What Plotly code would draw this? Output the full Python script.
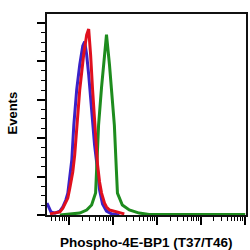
import plotly.graph_objects as go

# Fluorescence intensity (log scale) and relative event counts
blue_x = [3.16, 3.51, 3.89, 4.80, 6.21, 7.26, 8.49, 9.42, 10.45, 11.6, 12.9, 15.0, 17.6, 20.6, 22.8,
          25.3, 28.1, 31.1, 34.5, 38.3, 44.8, 49.7, 58.1, 71.5, 92.8, 141]
blue_y = [0.31, 0.18, 0.08, 0.05, 0.10, 0.21, 0.39, 0.57, 0.96, 1.43, 2.34, 3.26, 3.91, 4.40, 4.51,
          4.17, 3.65, 2.99, 2.47, 1.82, 1.17, 0.65, 0.29, 0.10, 0.03, 0.0]

red_x = [3.70, 4.80, 6.21, 7.26, 8.49, 9.42, 10.45, 12.2, 13.5, 15.0, 17.6, 21.6, 25.3, 28.1, 29.6,
         31.1, 34.5, 38.3, 40.4, 44.8, 49.7, 55.2, 64.5, 71.5, 83.6, 120, 182]
red_y = [0.03, 0.05, 0.08, 0.18, 0.34, 0.44, 0.70, 1.12, 1.56, 2.34, 3.26, 4.17, 4.69, 4.84, 4.56,
         4.17, 3.26, 2.47, 1.95, 1.30, 0.86, 0.57, 0.31, 0.21, 0.13, 0.08, 0.03]

green_x = [6.21, 10.45, 17.6, 25.3, 32.8, 40.4, 42.6, 47.2, 55.2, 61.2, 71.5, 83.6, 92.8, 108,
           120, 127, 164, 236, 397, 668, 103000]
green_y = [0.0, 0.03, 0.05, 0.13, 0.26, 0.57, 1.17, 2.34, 3.33, 3.91, 4.69, 3.91, 3.33, 2.34,
           1.17, 0.57, 0.26, 0.13, 0.05, 0.015, 0.01]

x_title = "Phospho-4E-BP1 (T37/T46)"
y_title = "Events"

fig = go.Figure()
fig.add_trace(go.Scatter(x=blue_x, y=blue_y, mode="lines",
                         line=dict(color="#3a22c8", width=3)))
fig.add_trace(go.Scatter(x=green_x, y=green_y, mode="lines",
                         line=dict(color="#1e8c1e", width=3)))
fig.add_trace(go.Scatter(x=red_x, y=red_y, mode="lines",
                         line=dict(color="#e0101e", width=3)))

fig.update_layout(
    width=250, height=250,
    margin=dict(l=47, r=2, t=14, b=35),
    paper_bgcolor="white", plot_bgcolor="white",
    showlegend=False,
    font=dict(family="Liberation Sans, Arial, sans-serif", color="black"),
)
fig.update_xaxes(
    type="log", range=[0.5, 5.03], dtick=1,
    showticklabels=False, showgrid=False, zeroline=False,
    showline=True, linecolor="#111", linewidth=1.5, mirror=True,
    ticks="outside", ticklen=8, tickwidth=2, tickcolor="black",
    minor=dict(ticks="outside", ticklen=4, tickwidth=1, tickcolor="black", dtick="D1", showgrid=False),
)
fig.update_yaxes(
    range=[0, 5.23], dtick=1,
    showticklabels=False, showgrid=False, zeroline=False,
    showline=True, linecolor="#111", linewidth=1.5, mirror=True,
    ticks="outside", ticklen=8, tickwidth=2, tickcolor="black",
    minor=dict(ticks="outside", ticklen=4, tickwidth=1, tickcolor="black", dtick=0.25, showgrid=False),
)
fig.add_annotation(text="<b>" + x_title + "</b>", xref="paper", yref="paper",
                   x=0.5, y=-0.139, xanchor="center", yanchor="middle",
                   showarrow=False, font=dict(size=13.5, color="black"))
fig.add_annotation(text="<b>" + y_title + "</b>", xref="paper", yref="paper",
                   x=-0.174, y=0.507, xanchor="center", yanchor="middle", textangle=-90,
                   showarrow=False, font=dict(size=13, color="black"))

fig.write_html("out.html")
